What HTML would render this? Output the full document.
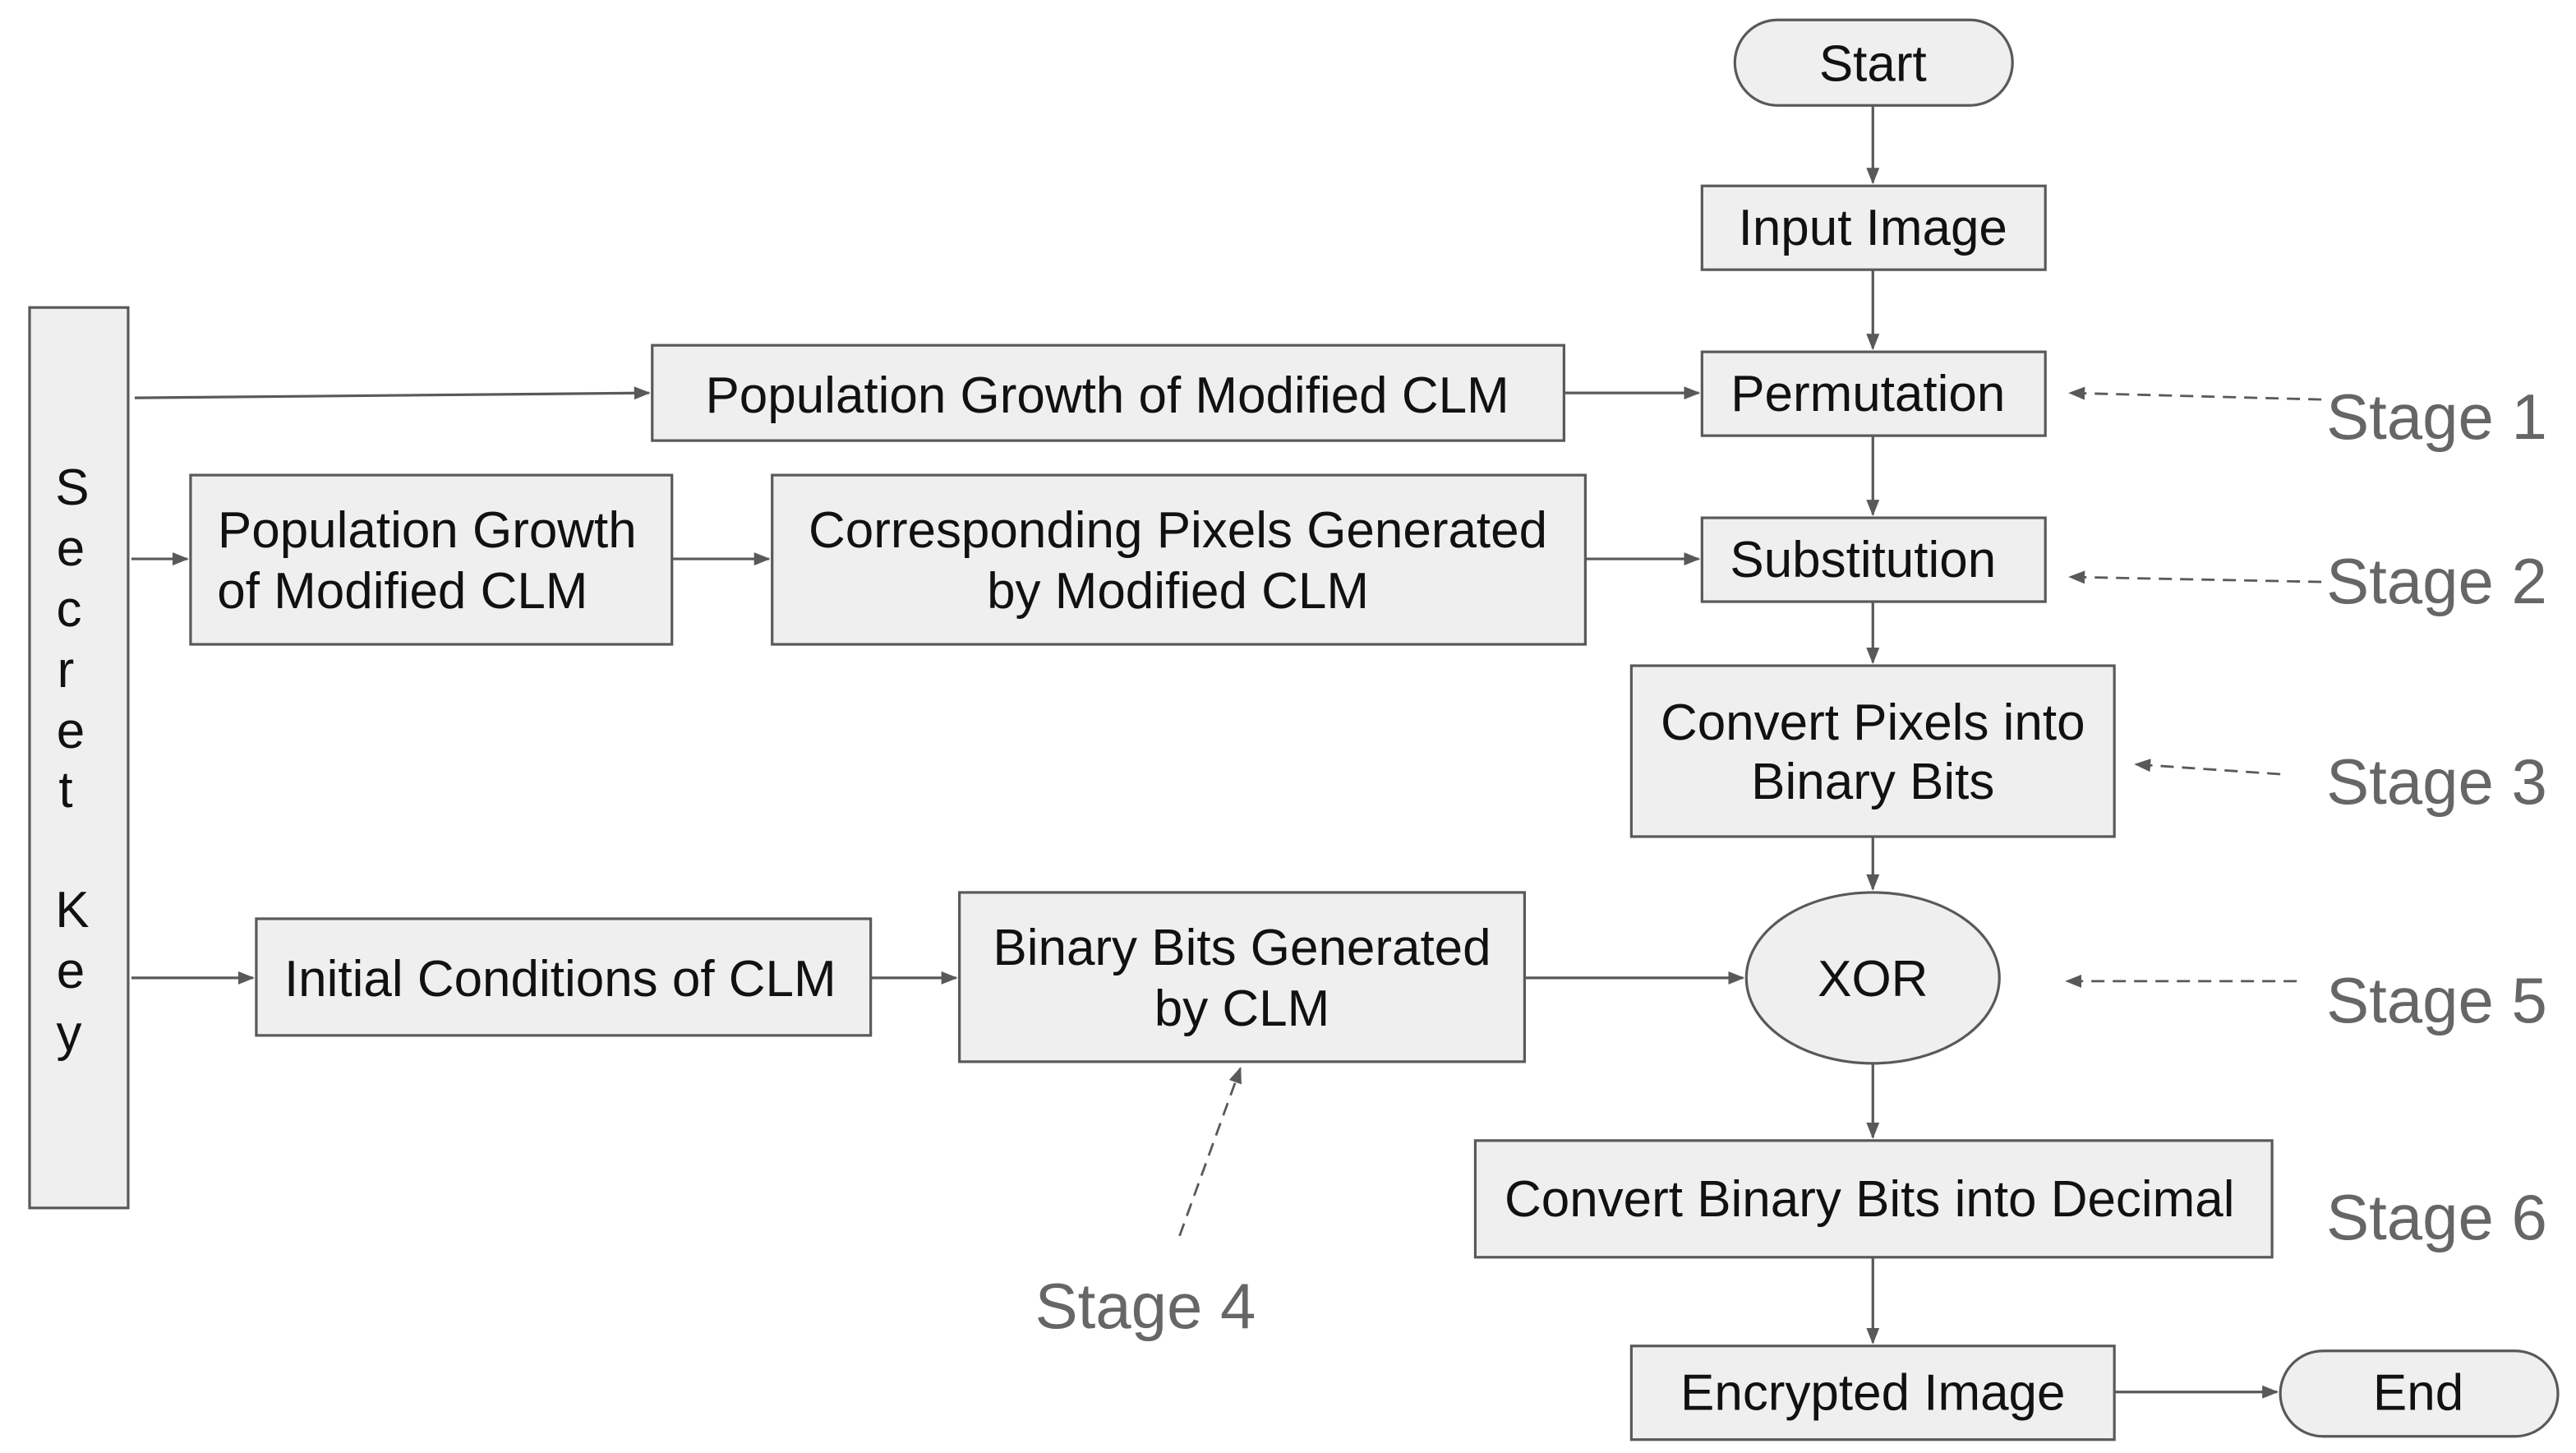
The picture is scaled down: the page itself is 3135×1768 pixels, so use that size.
<!DOCTYPE html>
<html><head><meta charset="utf-8"><style>html,body{margin:0;padding:0;background:#fff}svg{display:block}</style></head>
<body>
<svg width="3135" height="1768" viewBox="0 0 1568 884" xmlns="http://www.w3.org/2000/svg" font-family="Liberation Sans, Arial, sans-serif">
<defs>
<marker id="a" markerWidth="10" markerHeight="8" refX="9" refY="4" orient="auto" markerUnits="userSpaceOnUse"><path d="M0,0 L10,4 L0,8 z" fill="#595959"/></marker>
</defs>
<g fill="#efefef" stroke="#595959" stroke-width="1.6">
<rect x="1056" y="12" width="169" height="52" rx="26"/>
<rect x="1036" y="113" width="209" height="51"/>
<rect x="1036" y="214" width="209" height="51"/>
<rect x="1036" y="315" width="209" height="51"/>
<rect x="993" y="405" width="294" height="104"/>
<ellipse cx="1140" cy="595" rx="77" ry="52"/>
<rect x="898" y="694" width="485" height="71"/>
<rect x="993" y="819" width="294" height="57"/>
<rect x="1388" y="822" width="169" height="52" rx="26"/>
<rect x="18" y="187" width="60" height="548"/>
<rect x="397" y="210" width="555" height="58"/>
<rect x="116" y="289" width="293" height="103"/>
<rect x="470" y="289" width="495" height="103"/>
<rect x="156" y="559" width="374" height="71"/>
<rect x="584" y="543" width="344" height="103"/>
</g>
<g stroke="#595959" stroke-width="1.6" fill="none" marker-end="url(#a)">
<line x1="1140" y1="64" x2="1140" y2="111"/>
<line x1="1140" y1="164" x2="1140" y2="212"/>
<line x1="1140" y1="265" x2="1140" y2="313"/>
<line x1="1140" y1="366" x2="1140" y2="403"/>
<line x1="1140" y1="509" x2="1140" y2="541"/>
<line x1="1140" y1="647" x2="1140" y2="692"/>
<line x1="1140" y1="765" x2="1140" y2="817"/>
<line x1="82" y1="242" x2="395" y2="239"/>
<line x1="952" y1="239" x2="1034" y2="239"/>
<line x1="80" y1="340" x2="114" y2="340"/>
<line x1="409" y1="340" x2="468" y2="340"/>
<line x1="965" y1="340" x2="1034" y2="340"/>
<line x1="80" y1="595" x2="154" y2="595"/>
<line x1="530" y1="595" x2="582" y2="595"/>
<line x1="928" y1="595" x2="1061" y2="595"/>
<line x1="1287" y1="847" x2="1386" y2="847"/>
</g>
<g stroke="#595959" stroke-width="1.4" fill="none" stroke-dasharray="8,5" marker-end="url(#a)">
<line x1="1413" y1="243" x2="1260" y2="239"/>
<line x1="1413" y1="354" x2="1260" y2="351"/>
<line x1="1388" y1="471" x2="1300" y2="465"/>
<line x1="1398" y1="597" x2="1258" y2="597"/>
<line x1="718" y1="752" x2="755" y2="650"/>
</g>
<g fill="#111" font-size="31" text-anchor="middle">
<text x="1140" y="49">Start</text>
<text x="1140" y="149">Input Image</text>
<text x="1137" y="250">Permutation</text>
<text x="1134" y="351">Substitution</text>
<text x="1140" y="450">Convert Pixels into</text>
<text x="1140" y="486">Binary Bits</text>
<text x="1140" y="606">XOR</text>
<text x="1138" y="740">Convert Binary Bits into Decimal</text>
<text x="1140" y="858">Encrypted Image</text>
<text x="1472" y="858">End</text>
<text x="674" y="251">Population Growth of Modified CLM</text>
<text x="260" y="333">Population Growth</text>
<text x="245" y="370">of Modified CLM</text>
<text x="717" y="333">Corresponding Pixels Generated</text>
<text x="717" y="370">by Modified CLM</text>
<text x="341" y="606">Initial Conditions of CLM</text>
<text x="756" y="587">Binary Bits Generated</text>
<text x="756" y="624">by CLM</text>
<text x="44" y="307">S</text>
<text x="43" y="344">e</text>
<text x="42" y="381">c</text>
<text x="40" y="418">r</text>
<text x="43" y="455">e</text>
<text x="40" y="491">t</text>
<text x="44" y="564">K</text>
<text x="43" y="601">e</text>
<text x="42" y="639">y</text>
</g>
<g fill="#666" font-size="39">
<text x="1416" y="267">Stage 1</text>
<text x="1416" y="367">Stage 2</text>
<text x="1416" y="489">Stage 3</text>
<text x="1416" y="622">Stage 5</text>
<text x="1416" y="754">Stage 6</text>
<text x="630" y="808">Stage 4</text>
</g>
</svg>
</body></html>
